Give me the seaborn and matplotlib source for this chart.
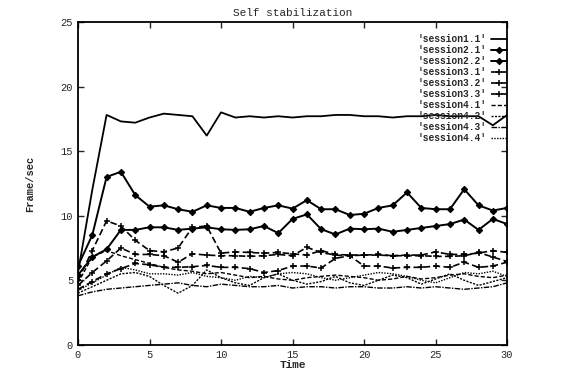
import matplotlib
matplotlib.use("Agg")
import matplotlib.pyplot as plt
import seaborn as sns
import numpy as np

time = list(range(31))
s1_1 = [5.6, 12.0, 17.8, 17.3, 17.2, 17.6, 17.9, 17.8, 17.7, 16.2, 18.0, 17.6, 17.7, 17.6, 17.7, 17.6,
        17.7, 17.7, 17.8, 17.8, 17.7, 17.7, 17.6, 17.7, 17.7, 17.8, 17.7, 17.7, 17.7, 17.0, 17.8]
s2_1 = [6.1, 8.5, 13.0, 13.4, 11.6, 10.7, 10.8, 10.5, 10.3, 10.8, 10.6, 10.6, 10.3, 10.6, 10.8, 10.55,
        11.2, 10.5, 10.5, 10.05, 10.15, 10.6, 10.8, 11.8, 10.6, 10.5, 10.5, 12.05, 10.8, 10.4, 10.6]
s2_2 = [5.4, 6.8, 7.4, 8.9, 8.9, 9.1, 9.1, 8.9, 9.0, 9.1, 8.95, 8.9, 8.95, 9.2, 8.65, 9.75,
        10.1, 8.95, 8.55, 9.0, 8.95, 9.0, 8.75, 8.9, 9.05, 9.2, 9.35, 9.7, 8.9, 9.75, 9.35]
s3_1 = [5.0, 7.3, 9.6, 9.2, 8.1, 7.3, 7.2, 7.5, 9.1, 9.2, 7.1, 7.2, 7.15, 7.1, 7.15, 7.05,
        6.95, 7.3, 7.0, 6.95, 6.95, 6.95, 6.9, 6.95, 6.95, 7.2, 7.0, 7.0, 7.1, 7.3, 7.15]
s3_2 = [4.6, 5.6, 6.5, 7.5, 7.0, 7.0, 6.9, 6.4, 7.05, 6.95, 6.9, 6.9, 6.85, 6.9, 7.0, 6.9,
        7.55, 7.15, 6.95, 6.9, 6.95, 7.0, 6.9, 6.9, 6.9, 6.85, 6.85, 6.9, 7.15, 6.8, 6.45]
s3_3 = [4.3, 4.9, 5.5, 5.9, 6.3, 6.2, 6.0, 6.0, 6.05, 6.15, 6.0, 6.0, 5.9, 5.6, 5.75, 6.1,
        6.1, 5.95, 6.7, 6.9, 6.1, 6.1, 5.95, 6.0, 6.0, 6.1, 6.0, 6.4, 6.0, 6.1, 6.4]
s4_1 = [4.8, 6.8, 7.3, 6.9, 6.6, 6.3, 6.0, 5.8, 5.7, 5.5, 5.6, 5.4, 5.2, 5.3, 5.1, 5.0,
        5.2, 5.3, 5.4, 5.3, 5.2, 5.0, 5.1, 5.3, 5.1, 5.2, 5.4, 5.5, 5.3, 5.2, 5.4]
s4_2 = [4.0, 4.5, 5.0, 5.5, 5.6, 5.3, 4.6, 4.0, 4.6, 5.8, 5.2, 4.8, 4.6, 5.2, 5.5, 5.0,
        4.7, 4.9, 5.3, 4.8, 4.6, 5.0, 5.4, 5.2, 4.7, 5.1, 5.5, 5.0, 4.6, 4.9, 5.2]
s4_3 = [3.8, 4.1, 4.3, 4.4, 4.5, 4.6, 4.7, 4.8, 4.6, 4.5, 4.7, 4.6, 4.5, 4.5, 4.6, 4.4,
        4.5, 4.5, 4.4, 4.5, 4.5, 4.4, 4.4, 4.5, 4.4, 4.5, 4.4, 4.3, 4.4, 4.5, 4.8]
s4_4 = [4.2, 4.8, 5.4, 6.0, 5.8, 5.5, 5.5, 5.4, 5.6, 5.3, 5.2, 5.0, 5.3, 5.2, 5.5, 5.6,
        5.5, 5.2, 5.0, 5.2, 5.4, 5.6, 5.5, 5.3, 5.0, 4.8, 5.2, 5.6, 5.5, 5.7, 5.3]

labels = ["'session1.1'", "'session2.1'", "'session2.2'", "'session3.1'", "'session3.2'",
          "'session3.3'", "'session4.1'", "'session4.2'", "'session4.3'", "'session4.4'"]
series = [s1_1, s2_1, s2_2, s3_1, s3_2, s3_3, s4_1, s4_2, s4_3, s4_4]
x_ticks = [0, 5, 10, 15, 20, 25, 30]
y_ticks = [0, 5, 10, 15, 20, 25]

styles = [
    dict(linestyle="-", marker=None, lw=1.3),
    dict(linestyle="-", marker="D", lw=1.4, ms=3.2),
    dict(linestyle="-", marker="D", lw=1.4, ms=3.2),
    dict(linestyle=(0, (4, 2)), marker="+", lw=1.2, ms=5, mew=1.1),
    dict(linestyle=(0, (4, 2)), marker="+", lw=1.2, ms=5, mew=1.1),
    dict(linestyle=(0, (4, 2)), marker="+", lw=1.2, ms=5, mew=1.1),
    dict(linestyle=(0, (3, 1.5)), marker=None, lw=1.0),
    dict(linestyle=(0, (1.5, 1)), marker=None, lw=1.0),
    dict(linestyle=(0, (4, 1, 1, 1)), marker=None, lw=1.0),
    dict(linestyle=(0, (1, 1)), marker=None, lw=1.0),
]

sns.set_style("ticks")
plt.rcParams["font.family"] = ["Liberation Mono", "DejaVu Sans Mono"]

fig = plt.figure(figsize=(5.61, 3.72), dpi=100)
ax = fig.add_axes([0.139, 0.073, 0.765, 0.868])

for vals, lab, st in zip(series, labels, styles):
    sns.lineplot(x=time, y=vals, ax=ax, color="black", label=lab,
                 linestyle=st["linestyle"], marker=st["marker"], linewidth=st["lw"],
                 markersize=st.get("ms", 0), markeredgewidth=st.get("mew", 0.8),
                 markeredgecolor="black")

ax.set_xlim(0, 30)
ax.set_ylim(0, 25)
ax.set_xticks(x_ticks)
ax.set_yticks(y_ticks)
ax.tick_params(direction="in", top=True, right=True, length=4, width=1, labelsize=7.5)
for s in ax.spines.values():
    s.set_linewidth(1.3)
    s.set_color("black")
ax.set_title("Self stabilization", fontsize=8, pad=4)
ax.set_xlabel("Time", fontsize=8, fontweight="bold", labelpad=0)
ax.set_ylabel("Frame/sec", fontsize=7.5, fontweight="bold", labelpad=18)
leg = ax.legend(loc="upper right", bbox_to_anchor=(1.008, 0.973), frameon=False,
                markerfirst=False, fontsize=6.9, handlelength=1.6, labelspacing=0.1,
                borderaxespad=0, handletextpad=0.5)
for t in leg.get_texts():
    t.set_fontweight("bold")

fig.savefig("out.png", dpi=100)
